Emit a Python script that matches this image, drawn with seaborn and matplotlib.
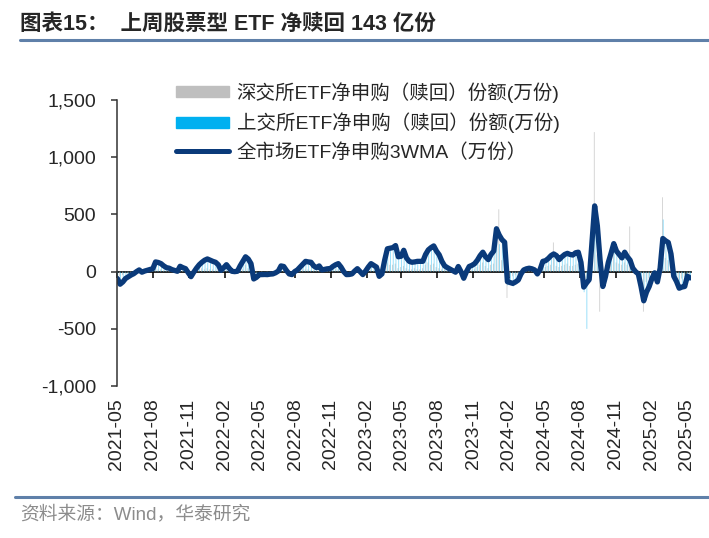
import matplotlib
matplotlib.use("Agg")
import matplotlib.pyplot as plt
import matplotlib.dates as mdates
from matplotlib.ticker import FuncFormatter
from matplotlib.lines import Line2D
from matplotlib.patches import Patch
import pandas as pd
import seaborn as sns

# weekly data (万份)
week_start = "2021-05-02"

sz_etf = [
    -20, -40, -30, -10, -20, -10, -5, 10, 10, 0,
    0, 10, 5, 10, 30, 20, 20, 10, 10, 10,
    0, 10, 0, 20, 10, 10, -10, -20, 0, 10,
    20, 30, 20, 30, 20, 20, 10, 20, 0, 10,
    20, 10, 0, -10, 0, 10, 20, 60, 30, 20,
    -20, -10, 0, -10, 0, -10, 0, -10, 0, 0,
    20, 10, 0, -10, -10, 0, 0, 10, 20, 20,
    20, 10, 10, 10, 20, 0, 0, 10, 10, 10,
    20, 20, 10, 0, -10, 0, 0, 0, 10, 0,
    -10, 0, 20, 20, 10, 10, -40, 0, 60, 80,
    60, 60, 70, 30, 40, 50, 30, 20, 20, 30,
    20, 20, 30, 60, 80, 60, 70, 40, 30, 20,
    20, 10, 10, 0, 0, 20, 0, -30, 0, 20,
    10, 20, 40, 60, 80, 50, 30, 60, 70, 200,
    545, 100, 80, -230, -50, -40, -30, -40, 0, 10,
    10, 10, 10, 0, -10, 10, 30, 40, 50, 60,
    255, 50, 40, 50, 60, 70, 50, 50, 60, 70,
    30, -80, -100, -40, 200, 1220, 150, -350, -100, -30,
    40, 80, 200, 80, 70, 60, 80, 60, 395, 20,
    0, -20, -60, -350, -90, -60, -30, 0, -40, 30,
    650, 120, 100, 60, -20, -40, -70, -60, -50, -140,
    -30,
]

sh_etf = [
    -40, -120, -60, -50, -30, -20, -10, 10, 30, -20,
    10, 20, 15, 30, 90, 70, 60, 40, 30, 20,
    20, 5, -10, 60, 30, 20, -20, -60, 10, 30,
    70, 90, 110, 100, 90, 80, 70, 50, -10, 40,
    70, 20, -10, 10, 0, 60, 100, 140, 90, 60,
    -70, -40, -30, -20, -30, -20, -25, -10, -15, 10,
    60, 40, 0, -30, -20, 10, 20, 50, 70, 100,
    80, 90, 40, 30, 60, 10, 20, 30, 20, 50,
    70, 60, 30, -10, -30, -20, -30, 10, 30, -10,
    -30, 10, 50, 80, 50, 30, -60, -10, 120, 180,
    190, 200, 220, 120, 140, 170, 110, 80, 90, 70,
    100, 80, 90, 160, 200, 190, 230, 170, 130, 80,
    60, 30, 20, 0, -20, 60, -10, -70, 10, 50,
    40, 80, 110, 150, 180, 120, 110, 160, 170, 260,
    240, 250, 220, -120, -80, -130, -70, -90, -10, 20,
    30, 40, 20, 10, -40, 30, 100, 90, 110, 130,
    170, 130, 100, 120, 160, 170, 130, 150, 160, 180,
    60, -180, -500, -60, 200, 400, 300, 60, -150, -60,
    90, 150, 260, 170, 140, 110, 160, 120, 110, 20,
    10, -30, -140, -230, -170, -120, -50, 0, -100, 40,
    456, 250, 240, 140, -30, -90, -150, -120, -120, -30,
    -60,
]

wma3 = [
    -60, -110, -90, -60, -45, -30, -18, 0, 15, -5,
    5, 12, 20, 26, 85, 80, 70, 50, 35, 30,
    18, 10, 3, 47, 35, 26, -10, -44, -5, 30,
    60, 82, 100, 111, 100, 90, 82, 60, 12, 35,
    61, 30, 3, 0, 3, 50, 90, 130, 110, 70,
    -64, -50, -26, -26, -25, -26, -22, -20, -10, 5,
    50, 45, 10, -20, -26, 0, 15, 40, 65, 90,
    85, 82, 50, 35, 50, 15, 20, 25, 26, 45,
    60, 70, 40, 0, -26, -25, -20, 5, 26, 0,
    -26, 5, 40, 70, 55, 40, -41, -20, 100, 200,
    205, 210, 228, 130, 134, 187, 120, 90, 82, 85,
    90, 90, 90, 150, 190, 210, 225, 180, 147, 90,
    50, 35, 22, 10, -5, 45, 0, -58, 0, 45,
    55, 70, 100, 140, 170, 130, 105, 150, 180, 375,
    320, 280, 257, -88, -95, -103, -90, -73, -20, 15,
    25, 30, 25, 15, -20, 20, 90, 96, 115, 140,
    155, 140, 105, 130, 150, 160, 150, 145, 165, 170,
    80, -135, -100, -70, 250, 575, 400, 100, -130, -41,
    80, 160, 245, 180, 150, 120, 170, 130, 100, 30,
    0, -20, -130, -255, -180, -130, -60, -10, -90, 30,
    290, 270, 255, 155, -40, -85, -145, -135, -130, -40,
    -55,
]

y_ticks = [-1000, -500, 0, 500, 1000, 1500]
x_ticks = pd.date_range("2021-05-01", "2025-05-01", freq="3MS")

labels = ["深交所ETF净申购（赎回）份额(万份)",
          "上交所ETF净申购（赎回）份额(万份)",
          "全市场ETF净申购3WMA（万份）"]

GRAY = "#BFBFBF"
BLUE = "#00B0F0"
NAVY = "#0A3A7A"
RULE = "#5F80A9"

df = pd.DataFrame({
    "date": pd.date_range(week_start, periods=len(wma3), freq="7D"),
    "sz": sz_etf,
    "sh": sh_etf,
    "wma": wma3,
})

sns.set_style("white")
plt.rcParams["font.family"] = ["Liberation Sans", "Noto Sans CJK SC"]

fig = plt.figure(figsize=(7.09, 5.38), dpi=100)
ax = fig.add_axes([0.165, 0.2825, 0.81, 0.5315])

# thin, pale weekly bars (no pixel snapping so none of them vanish)
day = pd.Timedelta(days=1)
ax.bar(df["date"] - day, df["sz"], width=2.0, color=GRAY, linewidth=0,
       alpha=0.8, snap=False)
ax.bar(df["date"] + day, df["sh"], width=2.2, color=BLUE, linewidth=0,
       alpha=0.45, snap=False)
sns.lineplot(data=df, x="date", y="wma", ax=ax, color=NAVY, linewidth=3.8, legend=False)

ax.set_xlim(pd.Timestamp("2021-05-01"), pd.Timestamp("2025-05-14"))
ax.set_ylim(-1000, 1500)
ax.set_xlabel("")
ax.set_ylabel("")

# y axis
ax.set_yticks(y_ticks)
ax.yaxis.set_major_formatter(FuncFormatter(lambda v, p: f"{v:,.0f}"))
ax.tick_params(axis="y", direction="out", length=4, width=1.1, pad=11,
               labelsize=14, color="#333333", left=True)
for s in ["top", "right", "bottom"]:
    ax.spines[s].set_visible(False)
ax.spines["left"].set_color("#333333")
ax.spines["left"].set_linewidth(1.1)

# x labels at the bottom, tick marks on the zero line
ax.set_xticks(x_ticks)
ax.xaxis.set_major_formatter(mdates.DateFormatter("%Y-%m"))
ax.tick_params(axis="x", length=0, pad=9, labelsize=14, rotation=90)

zero_axis = ax.secondary_xaxis(0.4)
zero_axis.set_xticks(mdates.date2num(x_ticks))
zero_axis.set_xticklabels([])
zero_axis.tick_params(axis="x", direction="out", length=4, width=1.1, color="black")
zero_axis.spines["bottom"].set_color("black")
zero_axis.spines["bottom"].set_linewidth(1.2)

legend_handles = [
    Patch(color=GRAY),
    Patch(color=BLUE),
    Line2D([0], [0], color=NAVY, linewidth=3.6),
]
ax.legend(legend_handles, labels, loc="upper left",
          bbox_to_anchor=(0.09, 1.09), frameon=False, fontsize=14,
          handlelength=2.7, handleheight=0.5, handletextpad=0.4,
          labelspacing=0.5, borderaxespad=0)

# title, rules and source
fig.text(0.028, 1 - 24 / 538, "图表15：  上周股票型 ETF 净赎回 143 亿份",
         fontsize=15.5, fontweight="bold", va="center", ha="left",
         family=["Liberation Sans", "Noto Sans CJK SC"])
fig.add_artist(Line2D([0.028, 1.0], [1 - 40 / 538] * 2, color=RULE, linewidth=2.2))
fig.add_artist(Line2D([0.021, 1.0], [1 - 497 / 538] * 2, color=RULE, linewidth=2.2))
fig.text(0.028, 1 - 514 / 538, "资料来源：Wind，华泰研究", fontsize=13.5,
         color="#8C8C8C", va="center", ha="left")

fig.savefig("out.png", dpi=100)
